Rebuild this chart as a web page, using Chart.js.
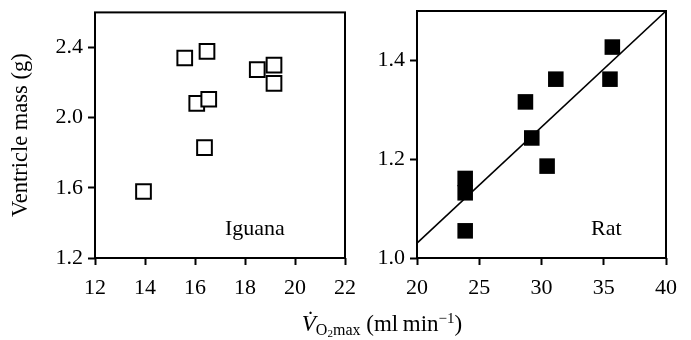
<!DOCTYPE html>
<html>
<head>
<meta charset="utf-8">
<script src="https://cdn.jsdelivr.net/npm/chart.js@4.4.1/dist/chart.umd.min.js"></script>
<style>
  html, body { margin: 0; padding: 0; background: #fff; }
  body { width: 691px; height: 340px; position: relative; overflow: hidden; font-family: "Liberation Serif", "DejaVu Serif", serif; color: #000; }
  .panel { position: absolute; top: 0; height: 340px; }
  .lbl { position: absolute; font-size: 22px; line-height: 22px; white-space: nowrap; }
  #xtitle { position: absolute; left: 382px; top: 312px; transform: translateX(-50%); font-size: 23px; line-height: 23px; white-space: nowrap; }
  #xtitle .s1 { font-size: 16px; position: relative; top: 4px; }
  #xtitle .s2 { font-size: 11px; position: relative; top: 2px; }
  #xtitle .sp { font-size: 15px; position: relative; top: -8px; }
</style>
</head>
<body>
<div class="panel" id="p1" style="left:0px;width:360px;"><canvas id="c1"></canvas></div>
<div class="panel" id="p2" style="left:340px;width:351px;"><canvas id="c2"></canvas></div>
<div class="lbl" style="left:225px;top:217px;">Iguana</div>
<div class="lbl" style="left:591px;top:217px;">Rat</div>
<div id="xtitle"><i>V&#775;</i><span class="s1">O<span class="s2">2</span>max</span> (ml&#8201;min<span class="sp">&minus;1</span>)</div>
<script>
// ---- data ----
const iguanaX = [13.94, 15.59, 16.48, 16.07, 16.55, 16.38, 18.49, 19.16, 19.16];
const iguanaY = [1.579, 2.34, 2.378, 2.082, 2.105, 1.829, 2.274, 2.30, 2.195];
const ratX = [23.87, 23.87, 23.87, 28.71, 29.22, 30.45, 31.15, 35.5, 35.69];
const ratY = [1.161, 1.132, 1.055, 1.316, 1.243, 1.186, 1.362, 1.362, 1.427];
const ratLineX = [20, 40];
const ratLineY = [1.03, 1.5];
const iguanaXTicks = [12, 14, 16, 18, 20, 22];
const iguanaYTicks = [1.2, 1.6, 2.0, 2.4];
const ratXTicks = [20, 25, 30, 35, 40];
const ratYTicks = [1.0, 1.2, 1.4];
const yTitle = 'Ventricle mass (g)';

Chart.defaults.font.family = '"Liberation Serif", "DejaVu Serif", serif';
Chart.defaults.font.size = 22;
Chart.defaults.color = '#000';

const framePlugin = {
  id: 'frame',
  afterDraw(chart) {
    const a = chart.chartArea, ctx = chart.ctx;
    ctx.save();
    ctx.strokeStyle = '#000';
    ctx.lineWidth = 2;
    ctx.strokeRect(a.left, a.top, a.right - a.left, a.bottom - a.top);
    ctx.restore();
  }
};

function pts(xs, ys) { return xs.map((x, i) => ({ x: x, y: ys[i] })); }
function fixedTicks(arr) { return function (scale) { scale.ticks = arr.map(v => ({ value: v })); }; }

function makeAxes(xmin, xmax, ymin, ymax, xt, yt, yWidth, xHeight, withTitle) {
  const grid = { display: true, drawOnChartArea: false, drawTicks: true, tickLength: 7, tickWidth: 2, tickColor: '#000', color: '#000' };
  return {
    x: {
      type: 'linear', min: xmin, max: xmax,
      afterBuildTicks: fixedTicks(xt),
      afterFit(s) { s.height = xHeight; s.paddingLeft = 0; s.paddingRight = 0; },
      grid: grid,
      border: { display: false },
      ticks: { padding: 10, maxRotation: 0, autoSkip: false, callback: v => String(v) }
    },
    y: {
      type: 'linear', min: ymin, max: ymax,
      afterBuildTicks: fixedTicks(yt),
      afterFit(s) { s.width = yWidth; s.paddingTop = 0; s.paddingBottom = 0; },
      grid: grid,
      border: { display: false },
      ticks: { padding: 5, autoSkip: false, callback: v => Number(v).toFixed(1) },
      title: withTitle ? { display: true, text: yTitle, font: { size: 22.5 }, padding: { top: 8, bottom: 0 } } : { display: false }
    }
  };
}

const common = {
  responsive: true,
  maintainAspectRatio: false,
  animation: false,
  events: [],
  plugins: { legend: { display: false }, tooltip: { enabled: false } }
};

new Chart(document.getElementById('c1'), {
  type: 'scatter',
  data: {
    datasets: [{
      data: pts(iguanaX, iguanaY),
      pointStyle: 'rect',
      pointRadius: 10.4,
      pointBorderWidth: 2,
      pointBorderColor: '#000',
      pointBackgroundColor: '#fff'
    }]
  },
  options: Object.assign({}, common, {
    layout: { padding: { top: 10, right: 15, left: 0, bottom: 0 } },
    scales: makeAxes(12, 22, 1.2, 2.6, iguanaXTicks, iguanaYTicks, 95, 82, true)
  }),
  plugins: [framePlugin]
});

new Chart(document.getElementById('c2'), {
  type: 'scatter',
  data: {
    datasets: [{
      data: pts(ratX, ratY),
      pointStyle: 'rect',
      pointRadius: 11,
      pointBorderWidth: 0,
      pointBackgroundColor: '#000',
      pointBorderColor: '#000',
      order: 0
    }, {
      type: 'line',
      data: pts(ratLineX, ratLineY),
      borderColor: '#000',
      borderWidth: 1.6,
      pointRadius: 0,
      fill: false,
      order: 1
    }]
  },
  options: Object.assign({}, common, {
    layout: { padding: { top: 10, right: 25, left: 0, bottom: 0 } },
    scales: makeAxes(20, 40, 1.0, 1.5, ratXTicks, ratYTicks, 77, 82, false)
  }),
  plugins: [framePlugin]
});
</script>
</body>
</html>
